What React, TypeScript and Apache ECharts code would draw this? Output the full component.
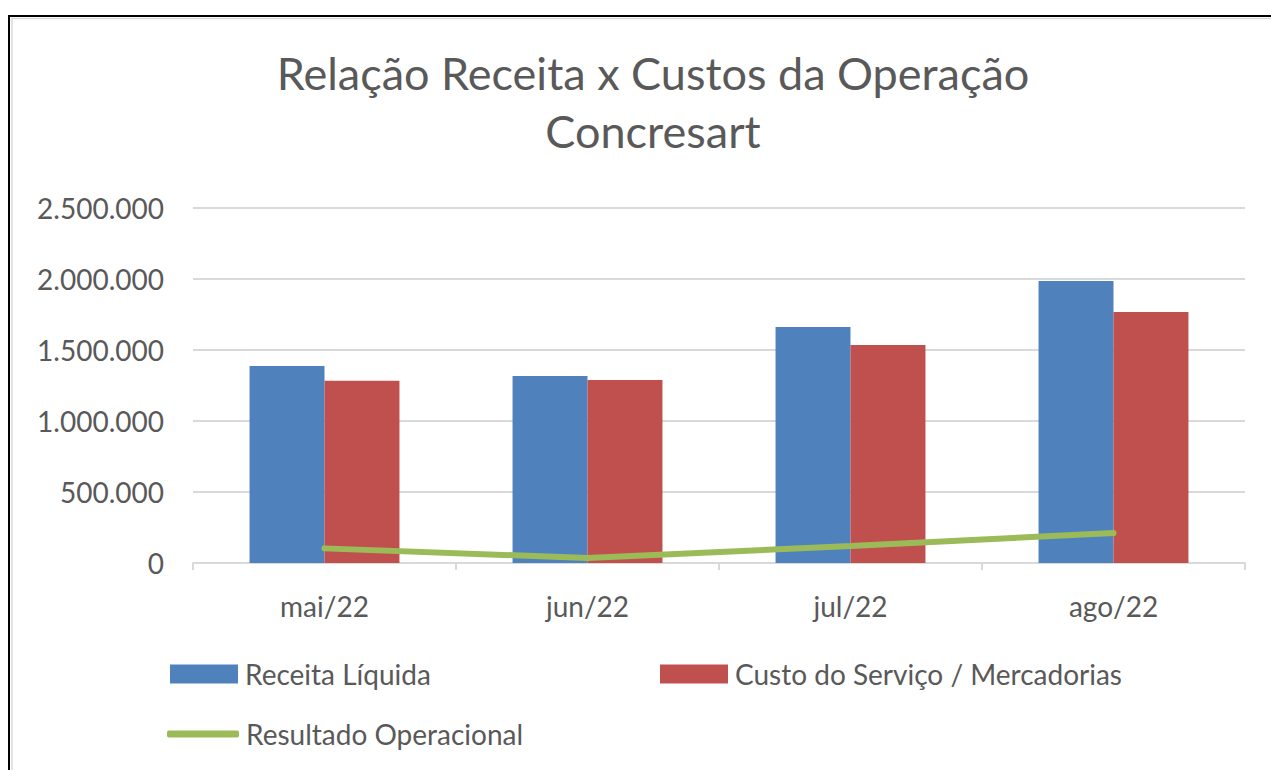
import React, { useEffect, useRef } from "react";
import * as echarts from "echarts";

const months = ["mai/22", "jun/22", "jul/22", "ago/22"];
const receitaLiquida = [1387000, 1317000, 1662000, 1986000];
const custoServico = [1284000, 1289000, 1535000, 1768000];
const resultadoOperacional = [103000, 35000, 120000, 211000];
const seriesNames = ["Receita Líquida", "Custo do Serviço / Mercadorias", "Resultado Operacional"];
const titleLines = ["Relação Receita x Custos da Operação", "Concresart"];

const FONT = "Lato, 'Open Sans', sans-serif";
const TEXT = "#595959";

function fmt(v: number): string {
  return String(Math.round(v)).replace(/\B(?=(\d{3})+(?!\d))/g, ".");
}

export default function App() {
  const ref = useRef<HTMLDivElement>(null);
  useEffect(() => {
    if (!ref.current) return;
    const chart = echarts.init(ref.current, null, { renderer: "svg" });
    const legendText = { fontFamily: FONT, fontSize: 28, color: TEXT, padding: [0, 0, 0, 2] };
    chart.setOption({
      animation: false,
      backgroundColor: "#ffffff",
      title: {
        text: titleLines.join("\n"),
        left: 648,
        textAlign: "center",
        top: 39,
        textStyle: { fontFamily: FONT, fontSize: 45, fontWeight: "normal", color: TEXT, lineHeight: 58 },
      },
      graphic: [
        { type: "rect", shape: { x: 9, y: 16, width: 1400, height: 1000 }, style: { fill: "none", stroke: "#000000", lineWidth: 2 }, silent: true },
        { type: "rect", shape: { x: 12, y: 18.5, width: 1400, height: 1000 }, style: { fill: "none", stroke: "#d9d9d9", lineWidth: 1.5 }, silent: true },
      ],
      legend: [
        {
          data: [seriesNames[0]], left: 170, top: 660, padding: 0, itemWidth: 68, itemHeight: 19, itemGap: 0, icon: "rect",
          textStyle: legendText,
        },
        {
          data: [seriesNames[1]], left: 660, top: 660, padding: 0, itemWidth: 68, itemHeight: 19, itemGap: 0, icon: "rect",
          textStyle: legendText,
        },
        {
          data: [seriesNames[2]], left: 167, top: 720, padding: 0, itemWidth: 72, itemHeight: 7, itemGap: 0, icon: "roundRect",
          textStyle: legendText,
        },
      ],
      grid: { left: 193, right: 26, top: 208, bottom: 207, containLabel: false },
      xAxis: {
        type: "category",
        data: months,
        axisLine: { lineStyle: { color: "#d9d9d9", width: 2 } },
        axisTick: { show: true, length: 7, lineStyle: { color: "#d9d9d9", width: 2 } },
        axisLabel: { fontFamily: FONT, fontSize: 28, color: TEXT, margin: 29 },
      },
      yAxis: {
        type: "value",
        min: 0,
        max: 2500000,
        interval: 500000,
        axisLine: { show: false },
        axisTick: { show: false },
        splitLine: { lineStyle: { color: "#d9d9d9", width: 2 } },
        axisLabel: { fontFamily: FONT, fontSize: 28, color: TEXT, margin: 29, formatter: (v: number) => fmt(v) },
      },
      series: [
        {
          name: seriesNames[0], type: "bar", data: receitaLiquida, barGap: "0%", barCategoryGap: "43%",
          itemStyle: { color: "#4f81bd" },
        },
        {
          name: seriesNames[1], type: "bar", data: custoServico, barGap: "0%", barCategoryGap: "43%",
          itemStyle: { color: "#c0504d" },
        },
        {
          name: seriesNames[2], type: "line", data: resultadoOperacional, symbol: "none",
          lineStyle: { color: "#9bbb59", width: 6, cap: "round" }, itemStyle: { color: "#9bbb59" },
        },
      ],
    });
    return () => chart.dispose();
  }, []);
  return <div ref={ref} style={{ position: "fixed", left: 0, top: 0, width: 1271, height: 770 }} />;
}
